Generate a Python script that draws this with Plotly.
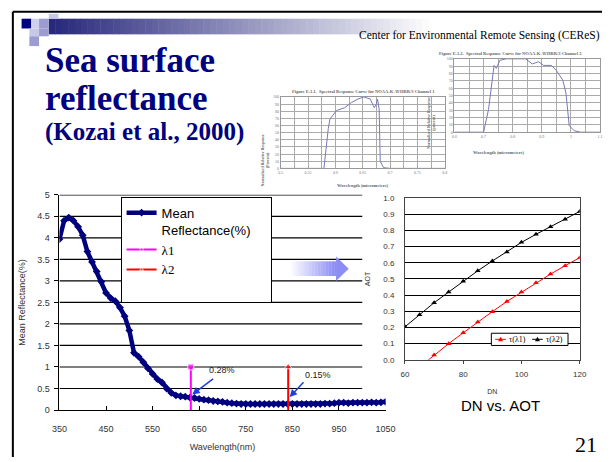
import plotly.graph_objects as go

W, H = 612, 462


def X(p):
    return p / W


def Y(p):
    return 1 - p / H


# ---------------- data ----------------
wavelength = list(range(350, 1060, 10))
reflectance = [3.97, 4.40, 4.47, 4.40, 4.26, 4.06, 3.68, 3.44, 3.22, 2.98,
               2.72, 2.60, 2.53, 2.38, 2.18, 1.85, 1.33, 1.24, 1.11, 0.97,
               0.84, 0.72, 0.64, 0.50, 0.40, 0.34, 0.32, 0.31, 0.29, 0.28,
               0.26, 0.24, 0.23, 0.21, 0.20, 0.19, 0.17, 0.16, 0.15, 0.14,
               0.14, 0.14, 0.14, 0.14, 0.14, 0.14, 0.14, 0.14, 0.14, 0.14,
               0.14, 0.14, 0.14, 0.14, 0.14, 0.14, 0.14, 0.15, 0.15, 0.16,
               0.17, 0.17, 0.16, 0.17, 0.17, 0.17, 0.17, 0.18, 0.17, 0.18,
               0.19]
lambda1_x = [632, 632]
lambda1_y = [0, 1.0]
lambda2_x = [841, 841]
lambda2_y = [0, 1.0]

dn_l1 = [65, 70, 75, 80, 85, 90, 95, 100, 105, 110, 115, 120]
tau_l1 = [-0.045, 0.03, 0.10, 0.167, 0.234, 0.298, 0.361, 0.419, 0.476, 0.53, 0.582, 0.631]
dn_l2 = [60, 65, 70, 75, 80, 85, 90, 95, 100, 105, 110, 115, 120]
tau_l2 = [0.204, 0.278, 0.353, 0.419, 0.486, 0.55, 0.611, 0.667, 0.726, 0.776, 0.823, 0.869, 0.917]

ch1_wl = [0.5, 0.575, 0.579, 0.587, 0.59, 0.602, 0.617, 0.629, 0.641, 0.652, 0.664,
          0.669, 0.671, 0.675, 0.677, 0.68, 0.682, 0.688, 0.7, 0.8]
ch1_resp = [0, 0, 0, 56, 69, 81, 85, 92, 97, 100, 97, 88, 85, 90, 97, 83, 10, 1, 0, 0]
ch2_wl = [0.6, 0.7, 0.717, 0.728, 0.736, 0.744, 0.756, 0.778, 0.811, 0.844, 0.867,
          0.889, 0.906, 0.933, 0.95, 0.972, 0.983, 0.994, 1.011, 1.033, 1.1]
ch2_resp = [0, 0, 31, 67, 91, 87, 98, 100, 100, 100, 93, 96, 91, 91, 84, 71, 53, 9, 2, 0, 0]

x_ticks = [350, 450, 550, 650, 750, 850, 950, 1050]
y_ticks = [0, 0.5, 1, 1.5, 2, 2.5, 3, 3.5, 4, 4.5, 5]
aot_y_ticks = [i / 10 for i in range(11)]
aot_x_ticks = [60, 80, 100, 120]
aot_series_names = ["τ(λ1)", "τ(λ2)"]
aot_series_colors = ["#ff0000", "#000000"]

NAVY = "#00007f"
SERIF = "Liberation Serif"
SANS = "Liberation Sans, Arial"
NB = "\u00a0"

fig = go.Figure()

# ---------------- main chart ----------------
fig.add_trace(go.Scatter(
    x=wavelength, y=reflectance, mode="lines+markers",
    line=dict(color=NAVY, width=4.5), marker=dict(symbol="diamond", size=6, color=NAVY),
    name="Mean<br>Reflectance(%)" + NB * 4, xaxis="x", yaxis="y", legend="legend"))
fig.add_trace(go.Scatter(
    x=lambda1_x, y=lambda1_y, mode="lines+markers",
    line=dict(color="#ff00ff", width=2), marker=dict(symbol="square", size=[0, 6], color="#ff00ff"),
    name=f"<span style='font-family:{SERIF}'>λ1</span>", xaxis="x", yaxis="y", legend="legend"))
fig.add_trace(go.Scatter(
    x=lambda2_x, y=lambda2_y, mode="lines+markers",
    line=dict(color="#ff0000", width=2), marker=dict(symbol="triangle-up", size=[0, 7], color="#ff0000"),
    name=f"<span style='font-family:{SERIF}'>λ2</span><br> ", xaxis="x", yaxis="y", legend="legend"))

# ---------------- AOT chart ----------------
fig.add_trace(go.Scatter(
    x=dn_l1, y=tau_l1, mode="lines+markers", line=dict(color=aot_series_colors[0], width=1),
    marker=dict(symbol="triangle-up", size=5, color=aot_series_colors[0]),
    name=aot_series_names[0], xaxis="x2", yaxis="y2", showlegend=False))
fig.add_trace(go.Scatter(
    x=dn_l2, y=tau_l2, mode="lines+markers", line=dict(color=aot_series_colors[1], width=1),
    marker=dict(symbol="triangle-up", size=5, color=aot_series_colors[1]),
    name=aot_series_names[1], xaxis="x2", yaxis="y2", showlegend=False))

# ---------------- small response curve figures ----------------
fig.add_trace(go.Scatter(x=ch1_wl, y=ch1_resp, mode="lines", line=dict(color="#7878b8", width=1),
                         showlegend=False, xaxis="x3", yaxis="y3"))
fig.add_trace(go.Scatter(x=ch2_wl, y=ch2_resp, mode="lines", line=dict(color="#7878b8", width=1),
                         showlegend=False, xaxis="x4", yaxis="y4"))

shapes = []
annotations = []

# slide frame
shapes.append(dict(type="line", xref="paper", yref="paper", x0=X(5), x1=X(612), y0=Y(7), y1=Y(7),
                   line=dict(color="black", width=2)))
shapes.append(dict(type="line", xref="paper", yref="paper", x0=X(5), x1=X(5), y0=Y(7), y1=Y(462),
                   line=dict(color="black", width=2)))

# gradient bar at top
n = 60
x_start, x_end = 42, 440
for i in range(n):
    t = i / (n - 1)
    r = int(40 + (255 - 40) * t)
    g = int(40 + (255 - 40) * t)
    b = int(125 + (255 - 125) * t)
    xa = x_start + (x_end - x_start) * i / n
    xb = x_start + (x_end - x_start) * (i + 1) / n + 0.5
    shapes.append(dict(type="rect", xref="paper", yref="paper", x0=X(xa), x1=X(xb), y0=Y(14), y1=Y(30),
                       fillcolor=f"rgb({r},{g},{b})", line=dict(width=0)))

# decorative squares
squares = [
    (14, 14, 24, 24, "#000080"),
    (24, 14, 32, 24, "#d0d0ec"),
    (32, 14, 42, 24, "#9c9cd0"),
    (42, 9, 52, 14, "#c8c8e8"),
    (22, 24, 32, 32, "#c8c8e8"),
    (32, 24, 42, 32, "#9c9cd0"),
    (22, 32, 32, 42, "#9c9cd0"),
]
for x0, y0, x1, y1, c in squares:
    shapes.append(dict(type="rect", xref="paper", yref="paper", x0=X(x0), x1=X(x1), y0=Y(y0), y1=Y(y1),
                       fillcolor=c, line=dict(width=0)))

# main chart grid lines (hidden by the inserted AOT picture beyond 1000 nm)
for v in y_ticks[1:]:
    shapes.append(dict(type="line", xref="x", yref="y", x0=350, x1=1000, y0=v, y1=v,
                       line=dict(color="black", width=1.2), layer="below"))

# gradient arrow between the charts
n = 30
for i in range(n):
    t = i / (n - 1)
    r = int(255 + (140 - 255) * t)
    g = int(255 + (140 - 255) * t)
    b = int(255 + (245 - 255) * t)
    xa = 290 + 48 * i / n
    xb = 290 + 48 * (i + 1) / n + 0.3
    shapes.append(dict(type="rect", xref="paper", yref="paper", x0=X(xa), x1=X(xb), y0=Y(262), y1=Y(277),
                       fillcolor=f"rgb({r},{g},{b})", line=dict(width=0)))
shapes.append(dict(type="path", xref="paper", yref="paper",
                   path=f"M{X(338)},{Y(257)} L{X(351)},{Y(269.5)} L{X(338)},{Y(282)} Z",
                   fillcolor="rgb(140,140,245)", line=dict(width=0)))

# compact key of the AOT chart (as in the pasted picture)
shapes.append(dict(type="rect", xref="paper", yref="paper", x0=X(498), x1=X(577), y0=Y(335.5), y1=Y(348),
                   fillcolor="white", line=dict(color="black", width=1)))
for k, (lx0, tx) in enumerate([(502, 515), (540, 553)]):
    col = aot_series_colors[k]
    cy = 341.7
    shapes.append(dict(type="line", xref="paper", yref="paper", x0=X(lx0), x1=X(lx0 + 11), y0=Y(cy), y1=Y(cy),
                       line=dict(color=col, width=1)))
    mx = lx0 + 5.5
    shapes.append(dict(type="path", xref="paper", yref="paper",
                       path=f"M{X(mx - 2.6)},{Y(cy + 2)} L{X(mx)},{Y(cy - 2.6)} L{X(mx + 2.6)},{Y(cy + 2)} Z",
                       fillcolor=col, line=dict(width=0)))
    annotations.append(dict(text=aot_series_names[k], x=X(tx), y=Y(cy), xref="paper", yref="paper",
                            xanchor="left", yanchor="middle", showarrow=False, borderpad=0,
                            font=dict(family=SERIF, size=8, color="black")))

# ---------------- text ----------------
annotations += [
    dict(text="Center for Environmental Remote Sensing (CEReS)", x=X(612), y=Y(31), xref="paper", yref="paper",
         xanchor="right", yanchor="middle", showarrow=False, font=dict(family=SERIF, size=11.5, color="black")),
    dict(text="<b>Sea surface</b>", x=X(36), y=Y(57), xref="paper", yref="paper", xanchor="left",
         yanchor="middle", showarrow=False, font=dict(family=SERIF, size=35, color="#000080")),
    dict(text="<b>reflectance</b>", x=X(36), y=Y(96), xref="paper", yref="paper", xanchor="left",
         yanchor="middle", showarrow=False, font=dict(family=SERIF, size=35, color="#000080")),
    dict(text="<b>(Kozai et al., 2000)</b>", x=X(36), y=Y(130), xref="paper", yref="paper", xanchor="left",
         yanchor="middle", showarrow=False, font=dict(family=SERIF, size=25, color="#000080")),
    dict(text="DN vs. AOT", x=X(507), y=Y(409), xref="paper", yref="paper", xanchor="center",
         yanchor="middle", showarrow=False, font=dict(family=SANS, size=15, color="black")),
    dict(text="21", x=X(609), y=Y(449), xref="paper", yref="paper", xanchor="right",
         yanchor="middle", showarrow=False, font=dict(family=SERIF, size=22, color="black")),
    # value labels and arrows
    dict(text="0.28%", x=698, y=0.93, xref="x", yref="y", showarrow=False,
         font=dict(family=SANS, size=9, color="#222")),
    dict(text="0.15%", x=906, y=0.82, xref="x", yref="y", showarrow=False,
         font=dict(family=SANS, size=9, color="#222")),
    dict(text="", x=635, y=0.36, ax=683, ay=0.75, xref="x", yref="y", axref="x", ayref="y",
         showarrow=True, arrowhead=2, arrowsize=1, arrowwidth=1.5, arrowcolor="#1f3fe0"),
    dict(text="", x=844, y=0.30, ax=877, ay=0.68, xref="x", yref="y", axref="x", ayref="y",
         showarrow=True, arrowhead=2, arrowsize=1, arrowwidth=1.5, arrowcolor="#1f3fe0"),
    # small figure captions
    dict(text="<b>Figure E.1.1.  Spectral Response Curve for NOAA-K AVHRR/3 Channel 1</b>", x=X(366), y=Y(84),
         xref="paper", yref="paper", showarrow=False, font=dict(family=SERIF, size=4.5, color="#666")),
    dict(text="<b>Figure E.1.2.  Spectral Response Curve for NOAA-K AVHRR/3 Channel 2</b>", x=X(442), y=Y(45),
         xref="paper", yref="paper", xanchor="left", showarrow=False,
         font=dict(family=SERIF, size=4.5, color="#666")),
    dict(text="<b>Wavelength (micrometers)</b>", x=X(366), y=Y(184), xref="paper", yref="paper",
         showarrow=False, font=dict(family=SERIF, size=4.5, color="#666")),
    dict(text="<b>Wavelength (micrometers)</b>", x=X(535), y=Y(146), xref="paper", yref="paper",
         showarrow=False, font=dict(family=SERIF, size=4.5, color="#666")),
    dict(text="<b>Normalized Relative Response<br>(Percent)</b>", x=X(265), y=Y(130), xref="paper",
         yref="paper", textangle=-90, showarrow=False, font=dict(family=SERIF, size=4, color="#666")),
    dict(text="<b>Normalized Relative Response<br>(percent)</b>", x=X(443), y=Y(92), xref="paper",
         yref="paper", textangle=-90, showarrow=False, font=dict(family=SERIF, size=4, color="#666")),
]

tick_font = dict(family=SANS, size=9, color="#333")
small_font = dict(family=SERIF, size=4, color="#777")

fig.update_layout(
    width=W, height=H, margin=dict(l=0, r=0, t=0, b=0),
    paper_bgcolor="white", plot_bgcolor="rgba(0,0,0,0)",
    shapes=shapes, annotations=annotations,
    xaxis=dict(domain=[X(53), X(389)], range=[350, 1050], tickvals=x_ticks, showgrid=False,
               showline=True, linecolor="black", linewidth=1, ticks="inside", ticklen=4, tickcolor="black",
               tickfont=tick_font, ticklabelstandoff=10, zeroline=False,
               title=dict(text="Wavelength(nm)", font=dict(family=SANS, size=9, color="#333"), standoff=10),
               anchor="y"),
    yaxis=dict(domain=[Y(414), Y(194)], range=[0, 5], tickvals=y_ticks, showgrid=False,
               showline=True, linecolor="black", linewidth=1, ticks="outside", ticklen=4, tickcolor="black",
               tickfont=tick_font, ticklabelstandoff=3, zeroline=False,
               title=dict(text="Mean Reflectance(%)", font=dict(family=SANS, size=9, color="#333"), standoff=9),
               anchor="x"),
    xaxis2=dict(domain=[X(409), X(589)], range=[60, 120], tickvals=aot_x_ticks, showgrid=False,
                showline=True, mirror=True, linecolor="#444", linewidth=1, ticks="outside", ticklen=3,
                tickcolor="#444", tickfont=dict(family=SANS, size=8, color="#333"), zeroline=False,
                ticklabelstandoff=4,
                title=dict(text="DN", font=dict(family=SANS, size=7, color="#333"), standoff=10),
                anchor="y2"),
    yaxis2=dict(domain=[Y(362.7), Y(197.3)], range=[0, 1], tickvals=aot_y_ticks, tickformat=".1f",
                showgrid=True, gridcolor="black", gridwidth=1, showline=True, mirror=True, linecolor="#444",
                linewidth=1, ticks="", tickfont=dict(family=SANS, size=8, color="#333"), zeroline=False,
                ticklabelstandoff=8,
                title=dict(text="AOT", font=dict(family=SANS, size=7, color="#333"), standoff=11),
                anchor="x2"),
    xaxis3=dict(domain=[X(281), X(450)], range=[0.5, 0.8], tickvals=[0.5, 0.55, 0.6, 0.65, 0.7, 0.75, 0.8],
                showgrid=True, gridcolor="#aaa", gridwidth=0.6,
                minor=dict(dtick=0.025, showgrid=True, gridcolor="#aaa", gridwidth=0.6),
                showline=True, mirror=True, linecolor="#999", linewidth=0.8, tickfont=small_font,
                zeroline=False, anchor="y3"),
    yaxis3=dict(domain=[Y(167), Y(94)], range=[0, 100], dtick=10, showgrid=True, gridcolor="#aaa",
                gridwidth=0.6, showline=True, mirror=True, linecolor="#999", linewidth=0.8, tickfont=small_font,
                zeroline=False, anchor="x3"),
    xaxis4=dict(domain=[X(460), X(610)], range=[0.6, 1.1], tickvals=[0.6, 0.7, 0.8, 0.9, 1, 1.1],
                showgrid=True, gridcolor="#aaa", gridwidth=0.6,
                minor=dict(dtick=0.05, showgrid=True, gridcolor="#aaa", gridwidth=0.6),
                showline=True, mirror=True, linecolor="#999", linewidth=0.8, tickfont=small_font,
                zeroline=False, anchor="y4"),
    yaxis4=dict(domain=[Y(130), Y(55)], range=[0, 100], dtick=10, showgrid=True, gridcolor="#aaa",
                gridwidth=0.6, showline=True, mirror=True, linecolor="#999", linewidth=0.8, tickfont=small_font,
                zeroline=False, anchor="x4"),
    legend=dict(x=X(116), y=Y(196), xanchor="left", yanchor="top", bgcolor="white", bordercolor="black",
                borderwidth=1, font=dict(family=SANS, size=13, color="black"), valign="top",
                itemwidth=30, tracegroupgap=2),
)

fig.write_html("out.html")
